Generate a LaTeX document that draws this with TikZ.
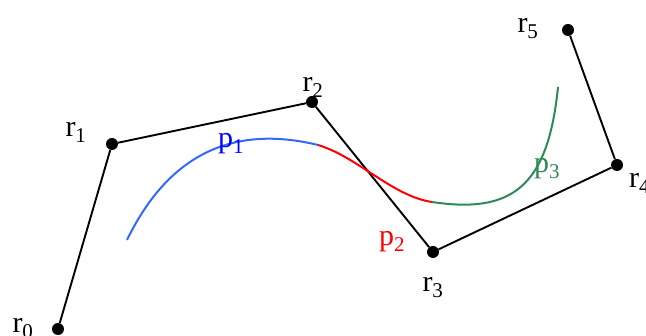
\documentclass[tikz,border=0pt]{standalone}
\usepackage{fontspec}
\setmainfont{Liberation Serif}
\definecolor{cblue}{RGB}{50,105,250}
\definecolor{cgreen}{RGB}{46,139,87}
\tikzset{
  dot/.style={circle,fill=black,inner sep=0pt,minimum size=12pt},
  poly/.style={draw=black,line width=1.9pt},
  curve/.style={line width=2pt},
  lbl/.style={inner sep=0pt,anchor=base,font=\fontsize{30}{36}\selectfont},
}
\begin{document}
\begin{tikzpicture}[x=1pt,y=-1pt]
\useasboundingbox (0,0) rectangle (646,336);
% control points
\node[dot] (r0) at (58,329) {};
\node[dot] (r1) at (112,144) {};
\node[dot] (r2) at (312,102) {};
\node[dot] (r3) at (433,252) {};
\node[dot] (r4) at (617,165) {};
\node[dot] (r5) at (568,30) {};
\draw[poly] (r0) -- (r1) -- (r2) -- (r3) -- (r4) -- (r5);
% labels
\node[lbl] (l0) at (23,333) {r\textsubscript{0}};
\node[lbl] (l1) at (76,137) {r\textsubscript{1}};
\node[lbl] (l2) at (313,92) {r\textsubscript{2}};
\node[lbl] (l3) at (433,292) {r\textsubscript{3}};
\node[lbl,anchor=base west] (l4) at (629,188) {r\textsubscript{4}};
\node[lbl] (l5) at (528,33) {r\textsubscript{5}};
% curve segments
\coordinate (a) at (127,240);
\coordinate (b) at (318,145);
\coordinate (c) at (432,202);
\coordinate (d) at (558,87);
\draw[curve,cblue] (a) .. controls (175,141) and (248,128) .. (b);
\draw[curve,red] (b) .. controls (358,157) and (392,196) .. (c);
\draw[curve,cgreen] (c) .. controls (512,214) and (548,187) .. (d);
\node[lbl,text=blue] (p1) at (231,148) {p\textsubscript{1}};
\node[lbl,text=red] (p2) at (392,246) {p\textsubscript{2}};
\node[lbl,text=cgreen] (p3) at (547,173) {p\textsubscript{3}};
\end{tikzpicture}
\end{document}
